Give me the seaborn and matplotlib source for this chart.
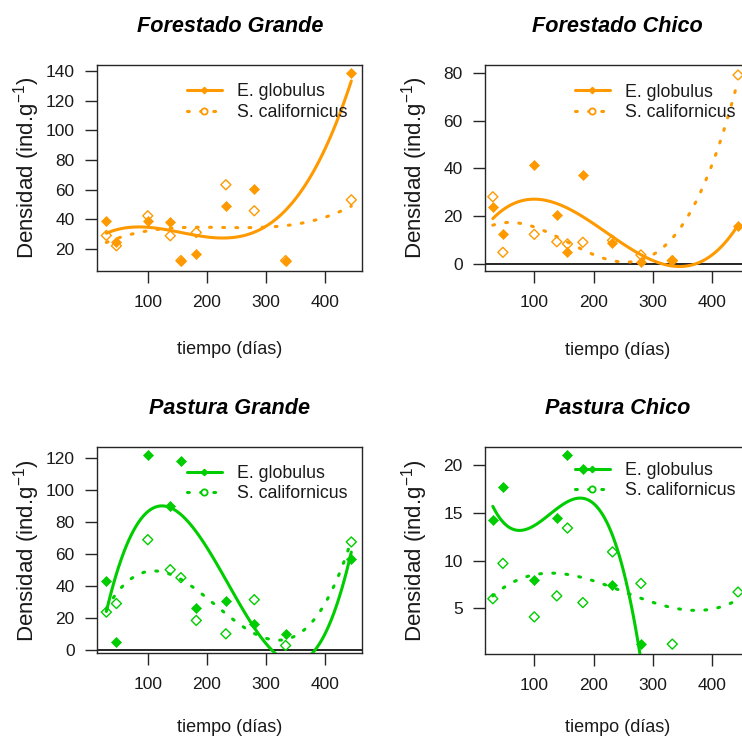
import numpy as np
import pandas as pd
import matplotlib
matplotlib.use("Agg")
import matplotlib.pyplot as plt
from matplotlib.lines import Line2D
import seaborn as sns

# ---------------- data ----------------
days = [30, 47, 100, 138, 156, 182, 232, 280, 333, 444]

fg_eg = [39.1, 24.3, 38.5, 38.0, 11.9, 16.6, 48.6, 60.6, 11.9, 139.0]
fg_sc = [29.0, 22.0, 42.3, 28.8, 12.0, 31.0, 63.3, 45.7, 12.0, 53.1]
fc_eg = [24.0, 12.5, 41.5, 20.6, 5.3, 37.3, 8.8, 1.0, 1.8, 16.0]
fc_sc = [28.2, 5.0, 12.5, 9.4, 8.5, 9.2, 10.0, 3.9, 1.5, 79.0]
pg_eg = [43.0, 4.8, 122.0, 90.0, 118.5, 26.4, 30.5, 16.0, 10.0, 57.0]
pg_sc = [23.6, 29.0, 69.0, 50.2, 45.2, 18.4, 10.0, 31.4, 2.7, 67.6]
pc_eg = [14.25, 17.7, 8.0, 14.5, 21.0, 19.6, 7.4, 1.25, np.nan, np.nan]
pc_sc = [6.0, 9.7, 4.1, 6.3, 13.4, 5.6, 10.9, 7.6, 1.25, 6.7]

titles = ["Forestado Grande", "Forestado Chico", "Pastura Grande", "Pastura Chico"]
species = ["E. globulus", "S. californicus"]
x_ticks = [100, 200, 300, 400]
y_ticks = [[20, 40, 60, 80, 100, 120, 140], [0, 20, 40, 60, 80],
           [0, 20, 40, 60, 80, 100, 120], [5, 10, 15, 20]]

ORANGE = "#FF9900"
GREEN = "#00CD00"

panels = [
    dict(title=titles[0], eg=fg_eg, sc=fg_sc, color=ORANGE, yt=y_ticks[0],
         box=(97.3, 65, 362.3, 270.5), xlim=(14.7, 462.6), ylim=(5.3, 144.3),
         xlab_y=-0.345, leg_y=0.91),
    dict(title=titles[1], eg=fc_eg, sc=fc_sc, color=ORANGE, yt=y_ticks[1],
         box=(485.3, 65, 750.3, 270.7), xlim=(17.3, 464.7), ylim=(-2.67, 83.2),
         xlab_y=-0.345, leg_y=0.91),
    dict(title=titles[2], eg=pg_eg, sc=pg_sc, color=GREEN, yt=y_ticks[2],
         box=(97.3, 447.3, 362.3, 653.3), xlim=(14.7, 462.6), ylim=(-2.2, 126.9),
         xlab_y=-0.32, leg_y=0.915),
    dict(title=titles[3], eg=pc_eg, sc=pc_sc, color=GREEN, yt=y_ticks[3],
         box=(485.3, 447.3, 750.3, 653.5), xlim=(17.3, 464.7), ylim=(0.27, 21.85),
         xlab_y=-0.32, leg_y=0.93),
]

# ---------------- style ----------------
sns.set_theme(style="white")
plt.rcParams["font.family"] = ["Liberation Sans", "DejaVu Sans"]
plt.rcParams["mathtext.default"] = "regular"
TXT = "#1a1a1a"
DOT = (0, (0.6, 3.7))

W, H = 742, 740
fig = plt.figure(figsize=(W / 100, H / 100), dpi=100)

for p in panels:
    l, t, r, b = p["box"]
    ax = fig.add_axes([l / W, 1 - b / H, (r - l) / W, (b - t) / H])
    df = pd.DataFrame({"dia": days, "eg": p["eg"], "sc": p["sc"]})
    c = p["color"]

    ax.axhline(0, color="black", lw=1.2, zorder=1)

    sns.regplot(data=df, x="dia", y="eg", order=3, ci=None, scatter=False,
                truncate=True, color=c, line_kws=dict(lw=2.2, zorder=3), ax=ax)
    sns.regplot(data=df, x="dia", y="sc", order=3, ci=None, scatter=False,
                truncate=True, color=c,
                line_kws=dict(lw=2.2, ls=DOT, dash_capstyle="round", zorder=3), ax=ax)
    sns.scatterplot(data=df, x="dia", y="eg", marker="D", s=26, color=c,
                    edgecolor=c, linewidth=0.5, ax=ax, zorder=4)
    sns.scatterplot(data=df, x="dia", y="sc", marker="D", s=26, color=c,
                    facecolor="none", edgecolor=c, linewidth=1.0, ax=ax, zorder=4)

    ax.set_xlim(*p["xlim"])
    ax.set_ylim(*p["ylim"])
    ax.set_xticks(x_ticks)
    ax.set_yticks(p["yt"])
    ax.tick_params(axis="both", which="major", direction="out", length=8.3,
                   width=1.0, color="#262626", labelsize=12.5, labelcolor=TXT,
                   left=True, bottom=True)
    ax.tick_params(axis="x", pad=9.0)
    ax.tick_params(axis="y", pad=8.0)
    for s in ax.spines.values():
        s.set_color("#262626")
        s.set_linewidth(1.0)
        s.set_visible(True)

    ax.set_title(p["title"], fontsize=15.6, fontweight="bold", fontstyle="italic",
                 color="black", pad=24)
    ax.set_xlabel("tiempo (días)", fontsize=13, color=TXT)
    ax.set_ylabel("Densidad (ind.g$^{-1}$)", fontsize=16, color=TXT)
    ax.xaxis.set_label_coords(0.5, p["xlab_y"])
    ax.yaxis.set_label_coords(-0.21, 0.5)

    handles = [
        Line2D([], [], color=c, lw=2.2, marker="D", ms=3.2, mfc=c, mec=c),
        Line2D([], [], color=c, lw=2.2, ls=DOT, dash_capstyle="round",
               marker="o", ms=4.5, mfc="white", mec=c, mew=1.3),
    ]
    ax.legend(handles, species, loc="upper left", bbox_to_anchor=(0.337, p["leg_y"]),
              frameon=False, fontsize=12.8, handlelength=2.0, handletextpad=0.85,
              labelspacing=0.2, borderpad=0, borderaxespad=0,
              labelcolor=TXT)

fig.savefig("out.png", dpi=100)
